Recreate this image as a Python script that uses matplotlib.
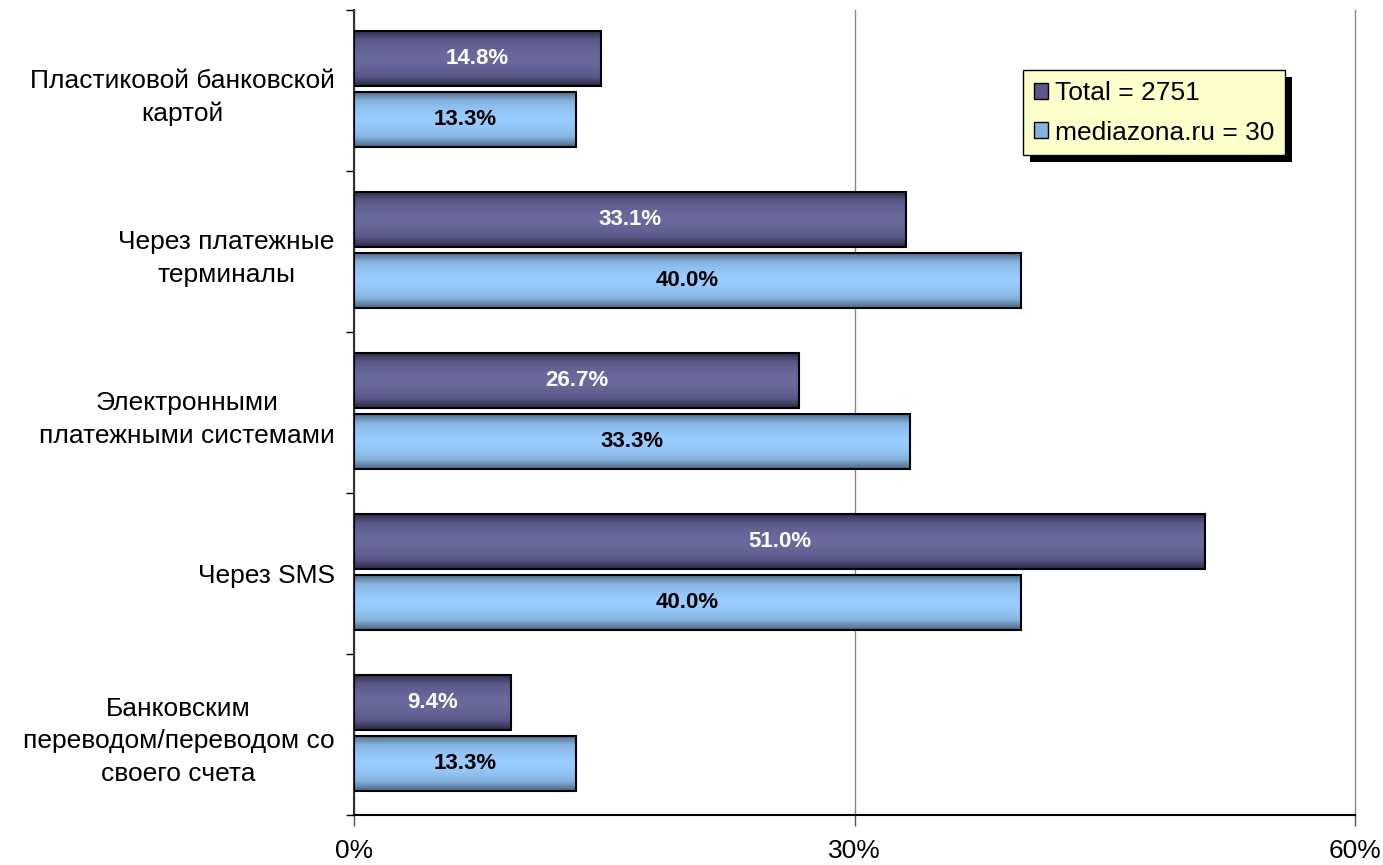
import matplotlib
matplotlib.use("Agg")
import matplotlib.pyplot as plt
import numpy as np
from matplotlib.colors import LinearSegmentedColormap
from matplotlib.patches import Rectangle, Patch

plt.rcParams['font.family'] = ['Liberation Sans', 'DejaVu Sans']

categories = ["Пластиковой банковской\nкартой",
              "Через платежные\nтерминалы",
              "Электронными\nплатежными системами",
              "Через SMS",
              "Банковским\nпереводом/переводом со\nсвоего счета"]
total_vals = [14.8, 33.1, 26.7, 51.0, 9.4]
media_vals = [13.3, 40.0, 33.3, 40.0, 13.3]
series_names = ["Total = 2751", "mediazona.ru = 30"]
xticks = [0, 30, 60]
xticklabels = ["0%", "30%", "60%"]

fig = plt.figure(figsize=(13.83, 8.65), dpi=100)
ax = fig.add_axes([354/1383, 1-815/865, (1355-354)/1383, (815-10)/865])

y = np.arange(len(categories))
h = 0.342
off_t = -0.196
off_m = 0.183

dark_cmap = LinearSegmentedColormap.from_list("d", ["#6a6a9e", "#5a5888", "#2c2a44"])
light_cmap = LinearSegmentedColormap.from_list("l", ["#99ccff", "#85b3e0", "#4a6580"])

grad = np.abs(np.linspace(-1, 1, 64))[:, None] ** 1.6


def draw_series(vals, offs, cmap, txtcolor):
    bars = ax.barh(y + offs, vals, height=h, color='none', edgecolor='black', linewidth=1.5, zorder=3)
    for b, v in zip(bars, vals):
        x0, y0 = b.get_x(), b.get_y()
        w, hh = b.get_width(), b.get_height()
        ax.imshow(grad, cmap=cmap, vmin=0, vmax=1, aspect='auto',
                  extent=(x0, x0 + w, y0 + hh, y0), zorder=2, interpolation='bilinear')
        ax.text(x0 + w / 2, y0 + hh / 2, f"{v:.1f}%", ha='center', va='center',
                color=txtcolor, fontsize=16, fontweight='bold', zorder=4)
    return bars


draw_series(total_vals, off_t, dark_cmap, 'white')
draw_series(media_vals, off_m, light_cmap, 'black')

ax.set_xlim(0, 60)
ax.set_ylim(len(categories) - 0.5, -0.5)

ax.set_xticks(xticks)
ax.set_xticklabels(xticklabels, fontsize=19)
ax.tick_params(axis='x', length=8, width=1, color='#555555', pad=9)
ax.xaxis.grid(True, color='#888888', linewidth=1, zorder=0)
for gl in ax.xaxis.get_gridlines():
    gl.set_clip_on(False)
ax.set_axisbelow(True)

ax.set_yticks(y)
ax.set_yticklabels(categories, fontsize=19, ha='right', multialignment='center', linespacing=1.45)
ax.tick_params(axis='y', which='major', length=0, pad=14)
ax.set_yticks(np.arange(-0.5, len(categories), 1), minor=True)
ax.tick_params(axis='y', which='minor', length=6, width=1, color='black')

for s in ['top', 'right']:
    ax.spines[s].set_visible(False)
ax.spines['left'].set_color('#333333')
ax.spines['left'].set_linewidth(1.5)
ax.spines['bottom'].set_color('black')
ax.spines['bottom'].set_linewidth(1.5)

handles = [Patch(facecolor='#5a5888', edgecolor='black'),
           Patch(facecolor='#85b3e0', edgecolor='black')]
leg = ax.legend(handles, series_names, loc='upper right', bbox_to_anchor=(0.930, 0.925),
                borderaxespad=0, fancybox=False, framealpha=1, facecolor='#ffffcc',
                edgecolor='black', fontsize=19, handlelength=0.55, handleheight=0.55,
                handletextpad=0.25, labelspacing=0.6, borderpad=0.4)
leg.set_zorder(10)
leg.get_frame().set_linewidth(1)

fig.canvas.draw()
bb = leg.get_window_extent()
shadow = Rectangle((bb.x0 + 7, bb.y0 - 7), bb.width, bb.height, transform=None,
                   facecolor='black', edgecolor='none', zorder=9, clip_on=False)
ax.add_artist(shadow)

fig.savefig("out.png", dpi=100)
